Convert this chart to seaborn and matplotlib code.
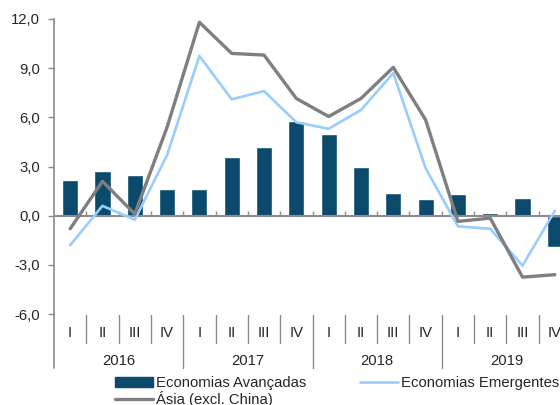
import numpy as np
import pandas as pd
import matplotlib
matplotlib.use("Agg")
import matplotlib.pyplot as plt
import seaborn as sns
from matplotlib.patches import Patch
from matplotlib.lines import Line2D

quarters = ["I", "II", "III", "IV"] * 4
years = ["2016", "2017", "2018", "2019"]
avancadas = [2.2, 2.7, 2.5, 1.6, 1.6, 3.6, 4.2, 5.75, 5.0, 3.0, 1.4, 1.0, 1.3, 0.15, 1.05, -1.9]
emergentes = [-1.8, 0.6, -0.25, 3.7, 9.75, 7.1, 7.6, 5.7, 5.3, 6.45, 8.7, 2.9, -0.65, -0.8, -3.05, 0.3]
asia = [-0.8, 2.1, 0.1, 5.4, 11.8, 9.9, 9.8, 7.15, 6.05, 7.15, 9.05, 5.85, -0.35, -0.15, -3.75, -3.6]

lbl_av = "Economias Avançadas"
lbl_em = "Economias Emergentes"
lbl_as = "Ásia (excl. China)"

c_bar = "#0B4A6A"
c_em = "#99CCFF"
c_as = "#7F7F7F"
c_axis = "#8C8C8C"

sns.set_style("white")
plt.rcParams["font.family"] = ["Liberation Sans", "DejaVu Sans"]
fs = 10.7

df = pd.DataFrame({
    "pos": np.arange(len(quarters)),
    "key": [f"{years[i // 4]} {q}" for i, q in enumerate(quarters)],
    "av": avancadas,
    "em": emergentes,
    "as": asia,
})

fig = plt.figure(figsize=(5.6, 4.05), dpi=100)
W, H = 560, 405
left, right, top, bot = 54, 571, 19, 314
ax = fig.add_axes([left / W, 1 - bot / H, (right - left) / W, (bot - top) / H])

sns.barplot(data=df, x="key", y="av", color=c_bar, width=0.5, saturation=1, ax=ax)
sns.lineplot(data=df, x="pos", y="em", color=c_em, linewidth=1.9, ax=ax)
sns.lineplot(data=df, x="pos", y="as", color=c_as, linewidth=2.4, ax=ax)

ax.set_xlim(-0.5, 15.5)
ax.set_ylim(-6, 12)
ax.set_yticks(np.arange(-6, 12.1, 3))
ax.set_yticklabels([f"{v:.1f}".replace(".", ",") for v in np.arange(-6, 12.1, 3)], fontsize=fs)
ax.set_xticks([])
ax.set_xlabel("")
ax.set_ylabel("")
ax.tick_params(axis="y", length=4, width=1, color=c_axis, pad=6, left=True, direction="out")

for s in ["top", "right", "bottom"]:
    ax.spines[s].set_visible(False)
ax.spines["left"].set_color(c_axis)
ax.spines["left"].set_linewidth(1.2)

# zero line with small ticks between quarters
ax.axhline(0, color=c_axis, linewidth=1.5, zorder=1)
ax.vlines(np.arange(0.5, 15.5, 1), 0, 0.28, color=c_axis, linewidth=1, zorder=1)

# category axis below the plot
trans = ax.get_xaxis_transform()
ax.plot([-0.5, -0.5], [0, -0.183], transform=trans, color=c_axis, linewidth=1.2, clip_on=False)
for b in np.arange(0.5, 15.5, 1):
    y_end = -0.183 if b in (3.5, 7.5, 11.5) else -0.098
    ax.plot([b, b], [-0.003, y_end], transform=trans, color=c_axis, linewidth=1, clip_on=False)
for i, q in enumerate(quarters):
    ax.text(i, -0.063, q, transform=trans, ha="center", va="center", fontsize=fs, clip_on=False)
for j, yr in enumerate(years):
    ax.text(j * 4 + 1.5, -0.16, yr, transform=trans, ha="center", va="center", fontsize=fs, clip_on=False)

handles = [
    Patch(facecolor=c_bar, edgecolor=c_bar),
    Line2D([], [], color=c_as, linewidth=2.4),
    Line2D([], [], color=c_em, linewidth=1.9),
]
fig.legend(handles, [lbl_av, lbl_as, lbl_em], ncol=2, loc="upper left",
           bbox_to_anchor=(115 / W, 1 - 376 / H), frameon=False, fontsize=fs,
           handlelength=2.55, handletextpad=0.2, columnspacing=3.65,
           labelspacing=0.05, borderpad=0, borderaxespad=0)

fig.savefig("out.png", dpi=100)
